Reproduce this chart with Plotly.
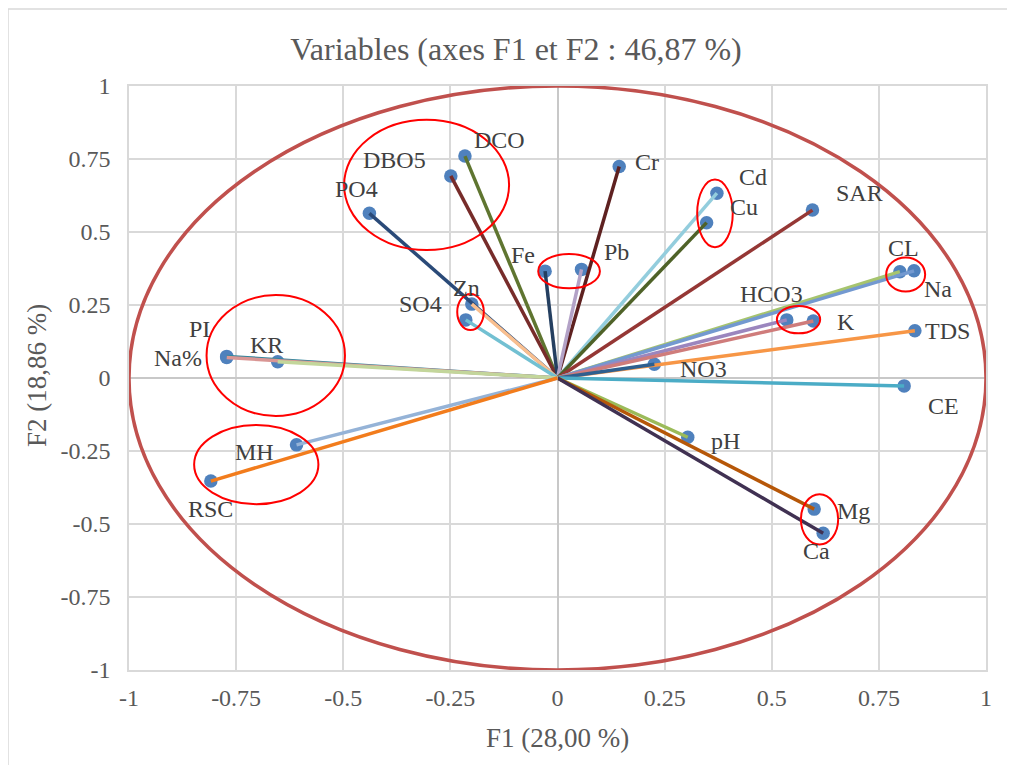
import plotly.graph_objects as go

# ---- data ----
variables = ["DCO", "DBO5", "PO4", "Cr", "Fe", "Pb", "Zn", "SO4", "Cd", "Cu", "SAR",
             "CL", "Na", "HCO3", "K", "TDS", "NO3", "CE", "pH", "Mg", "Ca",
             "PI", "Na%", "KR", "MH", "RSC"]
f1 = [-0.216, -0.249, -0.439, 0.144, -0.029, 0.056, -0.200, -0.214, 0.372, 0.348, 0.595,
      0.799, 0.832, 0.535, 0.597, 0.834, 0.226, 0.809, 0.304, 0.599, 0.620,
      -0.772, -0.772, -0.653, -0.609, -0.809]
f2 = [0.760, 0.692, 0.564, 0.724, 0.366, 0.372, 0.253, 0.199, 0.633, 0.532, 0.575,
      0.364, 0.367, 0.199, 0.195, 0.162, 0.047, -0.027, -0.203, -0.449, -0.532,
      0.074, 0.070, 0.056, -0.229, -0.353]
x_ticks = [-1, -0.75, -0.5, -0.25, 0, 0.25, 0.5, 0.75, 1]
y_ticks = [-1, -0.75, -0.5, -0.25, 0, 0.25, 0.5, 0.75, 1]

title_text = "Variables (axes F1 et F2 : 46,87 %)"
x_title = "F1 (28,00 %)"
y_title = "F2 (18,86 %)"

# ---- styles ----
line_colors = {
    "DCO": "#5f7530", "DBO5": "#772c2a", "PO4": "#2a4a78", "Cr": "#5e2120",
    "Fe": "#243f60", "Pb": "#b3a2c7", "Zn": "#f9bf8f", "SO4": "#72c0d2",
    "Cd": "#93cddd", "Cu": "#4f6228", "SAR": "#953735", "CL": "#a6c46e",
    "Na": "#7399d0", "HCO3": "#9b86be", "K": "#cf7c7b", "TDS": "#f79646",
    "NO3": "#2e5f8f", "CE": "#4bacc6", "pH": "#9bbb59", "Mg": "#b65708",
    "Ca": "#403152", "PI": "#31859c", "Na%": "#d99694", "KR": "#c3d69b",
    "MH": "#95b3d7", "RSC": "#f27c1c",
}
# label offsets in pixels (dx right, dy up)
label_offsets = {
    "DCO": (35, 16), "DBO5": (-56, 16), "PO4": (-13, 24), "Cr": (28, 5),
    "Fe": (-22, 16), "Pb": (35, 17), "Zn": (-5, 16), "SO4": (-45, 16),
    "Cd": (36, 16), "Cu": (37, 16), "SAR": (47, 17), "CL": (4, 24),
    "Na": (24, -18), "HCO3": (-15, 26), "K": (33, -1), "TDS": (33, 0),
    "NO3": (49, -5), "CE": (39, -20), "pH": (38, -4), "Mg": (39, -2),
    "Ca": (-7, -18), "PI": (-27, 27), "Na%": (-49, 0), "KR": (-11, 17),
    "MH": (-42, -7), "RSC": (0, -28),
}
FONT = "Liberation Serif, Times New Roman, serif"

# page offset of the figure (body margin) and plot-area geometry in page pixels
OFF = 8
FW, FH = 1015 - OFF, 765 - OFF
L, R, T, B = 129, 986, 86, 670
PW, PH = R - L, B - T


def px_x(p):
    return (p - L) / PW


def px_y(p):
    return (B - p) / PH


fig = go.Figure()

# markers first (lines are drawn over them)
fig.add_trace(go.Scatter(x=f1, y=f2, mode="markers",
                         marker=dict(size=13.5, color="#4f81bd"),
                         hoverinfo="text", text=variables, showlegend=False))

for name, xv, yv in zip(variables, f1, f2):
    fig.add_trace(go.Scatter(x=[0, xv], y=[0, yv], mode="lines",
                             line=dict(color=line_colors[name], width=3.5),
                             hoverinfo="skip", showlegend=False))

annotations = []
for name, xv, yv in zip(variables, f1, f2):
    dx, dy = label_offsets[name]
    annotations.append(dict(x=xv, y=yv, xref="x", yref="y", text=name, showarrow=False,
                            xshift=dx, yshift=dy,
                            font=dict(family=FONT, size=24, color="#404040")))

# axis titles
annotations.append(dict(x=px_x(557), y=px_y(738), xref="paper", yref="paper",
                        text=x_title, showarrow=False, xanchor="center", yanchor="middle",
                        font=dict(family=FONT, size=27, color="#595959")))
annotations.append(dict(x=px_x(37), y=px_y(376), xref="paper", yref="paper",
                        text=y_title, showarrow=False, textangle=-90,
                        xanchor="center", yanchor="middle",
                        font=dict(family=FONT, size=27, color="#595959")))

shapes = []
# correlation circle
shapes.append(dict(type="circle", xref="x", yref="y", x0=-1, y0=-1, x1=1, y1=1,
                   line=dict(color="#c0504d", width=3.5), layer="between"))
# red highlight ellipses
red_ellipses = [
    (-0.498, 0.438, -0.113, 0.884),
    (-0.045, 0.307, 0.099, 0.425),
    (-0.234, 0.164, -0.172, 0.288),
    (0.326, 0.448, 0.409, 0.680),
    (0.767, 0.296, 0.858, 0.413),
    (0.512, 0.153, 0.613, 0.247),
    (0.568, -0.570, 0.655, -0.398),
    (-0.819, -0.130, -0.496, 0.284),
    (-0.848, -0.432, -0.558, -0.161),
]
for x0, y0, x1, y1 in red_ellipses:
    shapes.append(dict(type="circle", xref="x", yref="y", x0=x0, y0=y0, x1=x1, y1=y1,
                       line=dict(color="#ff0000", width=2), layer="above"))
# chart area frame
shapes.append(dict(type="rect", xref="paper", yref="paper",
                   x0=px_x(8), x1=px_x(1008), y0=px_y(780), y1=px_y(9),
                   line=dict(color="#d9d9d9", width=1.5), layer="below"))

axis_common = dict(range=[-1, 1], showgrid=True, gridcolor="#d9d9d9", gridwidth=1.5,
                   zeroline=True, zerolinecolor="#c8c8c8", zerolinewidth=1.5,
                   showline=True, linecolor="#d9d9d9", linewidth=1.5, mirror=True,
                   ticks="", tickfont=dict(family=FONT, size=24, color="#595959"),
                   fixedrange=True)

fig.update_layout(
    width=FW, height=FH,
    margin=dict(l=L - OFF, r=FW - (R - OFF), t=T - OFF, b=FH - (B - OFF), autoexpand=False),
    paper_bgcolor="white", plot_bgcolor="white",
    title=dict(text=title_text, xref="container", yref="container",
               x=(516 - OFF) / FW, y=1 - (49 - OFF) / FH, xanchor="center", yanchor="middle",
               font=dict(family=FONT, size=32, color="#595959")),
    xaxis=dict(tickvals=x_ticks, ticktext=[f"{v:g}" for v in x_ticks],
               ticklabelstandoff=5, **axis_common),
    yaxis=dict(tickvals=y_ticks, ticktext=[f"{v:g}" for v in y_ticks],
               ticklabelstandoff=12, **axis_common),
    annotations=annotations,
    shapes=shapes,
    showlegend=False,
)

fig.write_html("out.html")
